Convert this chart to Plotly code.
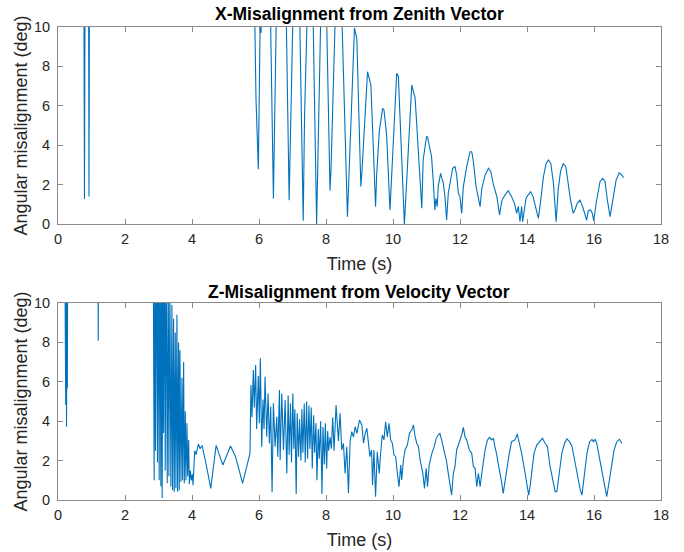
import plotly.graph_objects as go

# ---- X-misalignment from zenith vector (top panel) ----
x_time = [0.77, 0.79, 0.81, 0.91, 0.925, 0.94,
          5.85, 5.91, 5.98, 6.04, 6.06, 6.09,
          6.33, 6.43, 6.53,
          6.8, 6.9, 6.93, 7.03,
          7.2, 7.32, 7.36, 7.46,
          7.6, 7.72, 7.86,
          8.0, 8.12, 8.15, 8.3,
          8.45, 8.64, 8.85, 8.92, 9.04, 9.07, 9.24, 9.34, 9.48, 9.51,
          9.59, 9.69, 9.73, 9.81, 9.86, 9.91, 10.11, 10.16, 10.34, 10.56,
          10.66, 10.81, 10.86, 10.9, 11.0, 11.03, 11.15, 11.2, 11.25, 11.28,
          11.32, 11.35, 11.42, 11.46, 11.5, 11.55, 11.6, 11.65, 11.72, 11.78,
          11.85, 11.9, 11.95, 12.0, 12.05, 12.1, 12.2, 12.3, 12.35, 12.4,
          12.48, 12.55, 12.6, 12.65, 12.75, 12.85, 12.92, 13.0, 13.1, 13.18,
          13.25, 13.34, 13.44, 13.54, 13.64, 13.69, 13.74, 13.79, 13.84, 13.87,
          13.91, 13.97, 14.03, 14.11, 14.18, 14.26, 14.34, 14.41, 14.49, 14.57,
          14.64, 14.71, 14.79, 14.87, 14.93, 15.0, 15.08, 15.16, 15.23, 15.3,
          15.38, 15.43, 15.5, 15.58, 15.66, 15.73, 15.78, 15.83, 15.9, 15.95,
          15.99, 16.08, 16.18, 16.26, 16.33, 16.4, 16.48, 16.56, 16.66, 16.75,
          16.83, 16.88]
x_angle = [14, 1.27, 14, 14, 1.39, 14,
           13, 6.38, 2.78, 11, 9.7, 12,
           12, 1.3, 12,
           12, 1.2, 4.2, 12,
           12, 0.17, 5.5, 12,
           12, 0.0, 12,
           12, 1.7, 2.8, 12,
           12, 0.37, 9.95, 9.4, 1.9, 2.6, 7.73, 7.05, 0.88, 2.4,
           4.7, 5.87, 5.8, 4.5, 2.8, 0.71, 7.65, 7.5, 0.0, 7.05,
           6.4, 2.07, 0.8, 3.25, 4.43, 4.43, 3.42, 2.23, 0.71, 1.3,
           0.88, 1.9, 2.57, 2.3, 2.1, 1.39, 0.2, 1.56, 2.23, 2.83,
           2.91, 2.49, 1.56, 1.39, 0.54, 1.9, 2.91, 3.67, 3.67, 3.16,
           1.9, 1.2, 0.88, 1.8, 2.49, 2.83, 2.66, 1.98, 1.39, 0.46,
           1.2, 1.47, 1.69, 1.39, 0.97, 0.54, 0.9, 0.12, 0.88, 0.12,
           0.71, 1.3, 1.47, 1.64, 1.39, 0.88, 0.29, 1.2, 2.4, 3.07,
           3.25, 3.07, 2.07, 0.12, 1.73, 2.66, 3.07, 2.91, 2.07, 1.2,
           0.54, 0.71, 1.05, 1.22, 0.88, 0.54, 0.2, 0.68, 0.71, 0.54,
           0.17, 1.22, 2.15, 2.32, 2.15, 1.2, 0.37, 1.2, 2.23, 2.6,
           2.49, 2.35]

# ---- Z-misalignment from velocity vector (bottom panel) ----
z_time = [0.2, 0.21, 0.22, 0.23, 0.245, 0.255, 0.27, 0.28, 0.29,
          1.19, 1.2, 1.21, 2.84,
          2.87, 2.89, 2.91, 2.94, 2.97, 2.99, 3.02, 3.04, 3.07, 3.09,
          3.11, 3.13, 3.15, 3.18, 3.2, 3.23, 3.26, 3.29, 3.31, 3.34,
          3.37, 3.4, 3.42, 3.45, 3.47, 3.5, 3.52, 3.55, 3.57, 3.6,
          3.62, 3.64, 3.67, 3.7, 3.72, 3.75, 3.77, 3.8, 3.82, 3.85,
          3.87, 3.9, 3.92, 3.95, 3.98, 4.01, 4.03,
          4.08, 4.12, 4.19, 4.24, 4.3, 4.4, 4.56, 4.72, 4.92, 5.15, 5.3, 5.51, 5.73,
          5.76, 5.79, 5.83, 5.86, 5.9, 5.93, 5.98, 6.01, 6.04, 6.08,
          6.12, 6.15, 6.18, 6.23, 6.27, 6.31, 6.35, 6.39, 6.43, 6.48,
          6.53, 6.56, 6.61, 6.63, 6.68, 6.73, 6.78, 6.83, 6.87, 6.9,
          6.94, 6.97, 7.01, 7.04, 7.07, 7.11, 7.14, 7.18, 7.21, 7.25,
          7.28, 7.31, 7.35, 7.38, 7.42, 7.45, 7.49, 7.52, 7.56, 7.59,
          7.63, 7.66, 7.7, 7.73, 7.77, 7.8, 7.84, 7.88, 7.91, 7.95,
          7.98, 8.02, 8.05, 8.08, 8.12, 8.16, 8.2, 8.24, 8.3, 8.37,
          8.42, 8.47, 8.52, 8.57, 8.62, 8.67, 8.72, 8.77, 8.82, 8.87,
          8.92, 9.0, 9.07, 9.12, 9.17, 9.22, 9.27, 9.31, 9.36, 9.39,
          9.43, 9.48, 9.53, 9.59, 9.63, 9.68, 9.73, 9.78, 9.83, 9.88,
          9.93, 9.98, 10.03, 10.08, 10.13, 10.18, 10.23, 10.26, 10.31, 10.36,
          10.43, 10.49, 10.56, 10.61, 10.66, 10.71, 10.76, 10.81, 10.89, 10.94,
          10.99, 11.03, 11.08, 11.16, 11.23, 11.29, 11.35, 11.4, 11.45, 11.5,
          11.55, 11.6, 11.65, 11.7, 11.75, 11.8, 11.85, 11.9, 11.98, 12.05,
          12.1, 12.15, 12.2, 12.28, 12.35, 12.4, 12.45, 12.5, 12.55, 12.6,
          12.65, 12.7, 12.75, 12.82, 12.88, 12.95, 13.0, 13.04, 13.09, 13.14,
          13.19, 13.24, 13.29, 13.34, 13.39, 13.47, 13.54, 13.64, 13.71, 13.77,
          13.84, 13.91, 13.99, 14.05, 14.09, 14.14, 14.21, 14.29, 14.37, 14.46,
          14.54, 14.61, 14.69, 14.77, 14.84, 14.89, 14.97, 15.04, 15.12, 15.19,
          15.27, 15.34, 15.42, 15.51, 15.59, 15.64, 15.71, 15.79, 15.87, 15.94,
          15.98, 16.03, 16.08, 16.16, 16.23, 16.3, 16.38, 16.46, 16.53, 16.6,
          16.68, 16.76, 16.83]
z_angle = [14, 6.43, 14, 4.82, 14, 3.72, 14, 5.67, 14,
           14, 8.09, 14, 14,
           1.0, 14, 2.5, 14, 1.9, 14, 1.0, 14, 0.7, 14,
           0.1, 14, 3.4, 14, 1.5, 13, 0.85, 12, 1.2, 11,
           0.68, 9.9, 0.5, 9.2, 0.42, 8.5, 0.6, 9.4, 0.42, 8.0,
           0.5, 7.6, 0.93, 6.2, 1.0, 7.0, 0.85, 4.5, 1.0, 3.9,
           1.2, 3.05, 0.8, 1.5, 1.0, 1.3, 0.75,
           2.5, 2.3, 2.84, 2.6, 2.77, 2.0, 0.59, 2.77, 1.78, 2.74, 2.2, 0.85, 2.37,
           5.84, 4.2, 6.6, 4.7, 6.85, 3.6, 6.3, 3.9, 7.19, 2.7,
           5.1, 3.6, 6.26, 3.21, 5.4, 2.88, 4.74, 0.4, 4.91, 2.71,
           4.23, 2.2, 5.58, 2.03, 5.4, 2.54, 5.08, 1.35, 5.3, 2.3,
           4.9, 1.9, 5.4, 2.6, 4.6, 0.3, 4.4, 2.2, 4.1, 2.0,
           4.6, 2.4, 4.9, 1.9, 5.0, 2.1, 4.8, 2.6, 4.7, 1.6,
           4.3, 2.4, 3.9, 1.0, 3.6, 2.1, 4.0, 0.3, 3.7, 1.8,
           3.9, 1.6, 3.5, 2.5, 3.2, 2.6, 4.2, 2.5, 4.82, 3.0,
           4.4, 2.54, 2.88, 1.35, 2.7, 0.34, 3.0, 3.47, 3.2, 3.72,
           3.38, 4.06, 3.81, 2.88, 3.38, 3.64, 2.7, 2.2, 2.54, 0.76,
           2.54, 0.17, 2.45, 1.35, 2.37, 3.3, 3.05, 3.97, 3.2, 3.89,
           3.05, 2.88, 2.28, 2.2, 1.35, 0.68, 1.78, 1.02, 2.03, 2.54,
           2.8, 3.38, 3.55, 3.81, 3.21, 2.88, 2.71, 2.03, 1.35, 0.59,
           1.61, 0.68, 1.78, 2.37, 2.71, 3.13, 3.3, 3.38, 3.05, 2.71,
           2.28, 1.95, 1.35, 0.85, 0.25, 1.35, 1.69, 2.54, 2.96, 3.3,
           3.69, 3.2, 3.05, 2.54, 2.37, 1.69, 1.61, 0.68, 1.35, 0.68,
           1.35, 2.03, 2.54, 3.05, 3.18, 3.05, 3.13, 2.71, 2.37, 1.86,
           1.44, 0.93, 0.34, 0.93, 1.69, 2.37, 2.96, 3.05, 3.35, 2.96,
           2.37, 1.69, 0.85, 0.25, 0.68, 1.52, 2.37, 2.79, 2.96, 3.13,
           2.88, 2.71, 1.69, 0.93, 0.42, 0.42, 1.35, 2.37, 2.88, 3.1,
           2.96, 2.74, 2.03, 1.18, 0.51, 0.25, 1.35, 2.37, 2.96, 3.08,
           2.96, 3.08, 2.88, 2.2, 1.52, 0.85, 0.17, 1.02, 1.86, 2.54,
           2.96, 3.08, 2.88]

assert len(x_time) == len(x_angle), (len(x_time), len(x_angle))
assert len(z_time) == len(z_angle), (len(z_time), len(z_angle))

x_ticks = [0, 2, 4, 6, 8, 10, 12, 14, 16, 18]
y_ticks = [0, 2, 4, 6, 8, 10]
titles = ["X-Misalignment from Zenith Vector", "Z-Misalignment from Velocity Vector"]

W, H = 684, 552
LINE = "#0072BD"
AX = "#8a8a8a"
TXT = "#262626"
FONT = "Liberation Sans, Arial, sans-serif"


def px_x(p):
    return p / W


def px_y(p):
    return 1 - p / H


fig = go.Figure()
fig.add_trace(go.Scatter(x=x_time, y=x_angle, mode="lines",
                         line=dict(color=LINE, width=1.1), xaxis="x", yaxis="y",
                         showlegend=False))
fig.add_trace(go.Scatter(x=z_time, y=z_angle, mode="lines",
                         line=dict(color=LINE, width=1.1), xaxis="x2", yaxis="y2",
                         showlegend=False))

xdom = [px_x(58), px_x(661)]
common_x = dict(range=[0, 18], tickvals=x_ticks, ticks="inside", ticklen=5,
                tickcolor=AX, showline=True, linecolor=AX, linewidth=1, mirror="allticks",
                showgrid=False, zeroline=False, automargin=False, ticklabelstandoff=2,
                tickfont=dict(size=14.5, color=TXT, family=FONT),
                title=dict(text="Time (s)", font=dict(size=18, color=TXT, family=FONT), standoff=10),
                domain=xdom, fixedrange=True)
common_y = dict(range=[0, 10], tickvals=y_ticks, ticks="inside", ticklen=5,
                tickcolor=AX, showline=True, linecolor=AX, linewidth=1, mirror="allticks",
                showgrid=False, zeroline=False, automargin=False, ticklabelstandoff=4,
                tickfont=dict(size=14.5, color=TXT, family=FONT),
                title=dict(text="Angular misalignment (deg)", font=dict(size=18, color=TXT, family=FONT), standoff=1),
                fixedrange=True)

fig.update_layout(
    width=W, height=H,
    margin=dict(l=0, r=0, t=0, b=0, autoexpand=False),
    paper_bgcolor="white", plot_bgcolor="white",
    font=dict(family=FONT, color=TXT),
    hovermode=False,
    xaxis=dict(common_x, anchor="y"),
    yaxis=dict(common_y, domain=[px_y(224), px_y(27)], anchor="x"),
    xaxis2=dict(common_x, anchor="y2"),
    yaxis2=dict(common_y, domain=[px_y(500), px_y(303)], anchor="x2"),
    annotations=[
        dict(text="<b>%s</b>" % titles[0], x=px_x((58 + 661) / 2), y=px_y(14.5),
             xref="paper", yref="paper", xanchor="center", yanchor="middle",
             showarrow=False, font=dict(size=17.5, color="black", family=FONT)),
        dict(text="<b>%s</b>" % titles[1], x=px_x((58 + 661) / 2), y=px_y(291.5),
             xref="paper", yref="paper", xanchor="center", yanchor="middle",
             showarrow=False, font=dict(size=17.5, color="black", family=FONT)),
    ],
)

# remove the page's default 8px body margin so the 684x552 figure fills the window
fig.write_html("out.html",
               config={"displayModeBar": False},
               post_script="document.body.style.margin='0';document.body.style.overflow='hidden';")
